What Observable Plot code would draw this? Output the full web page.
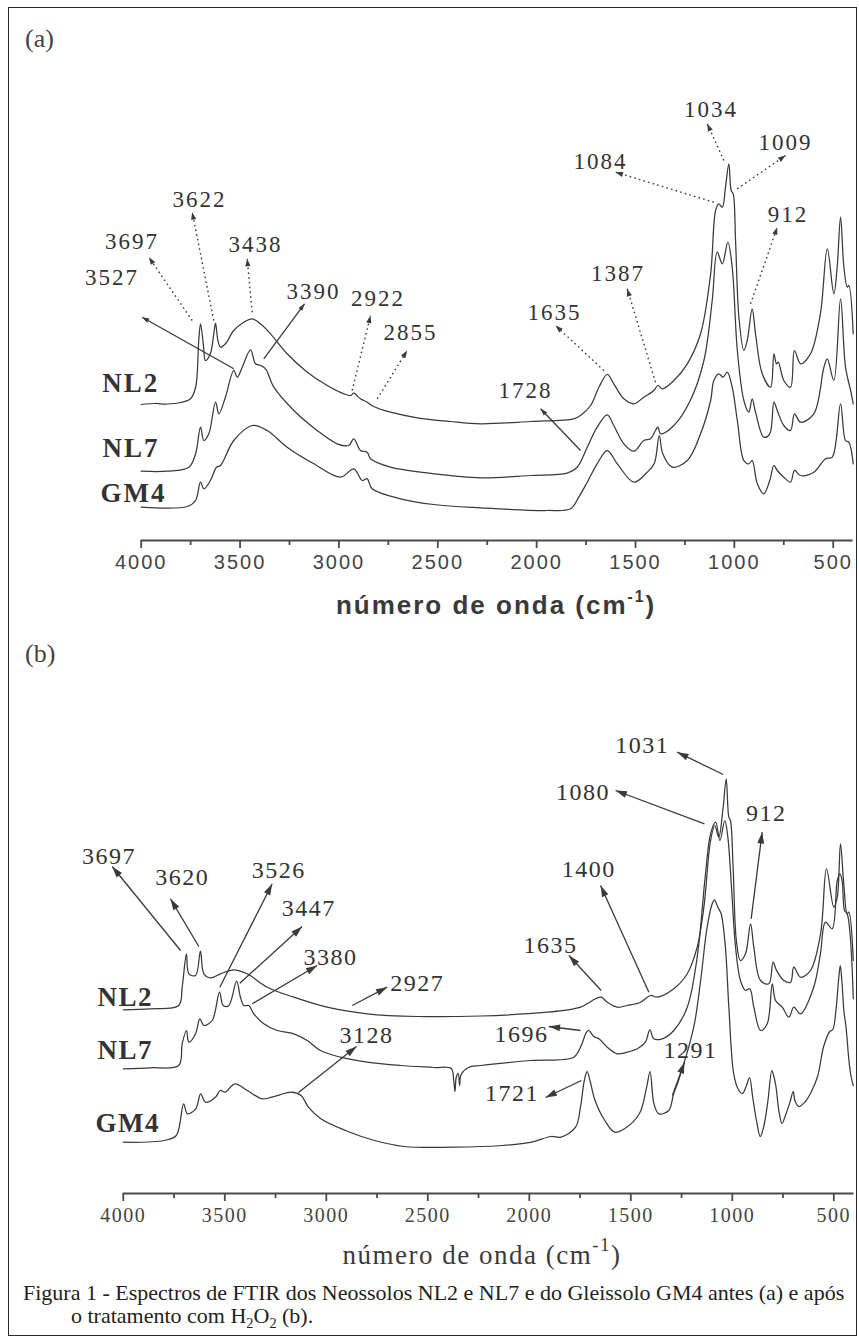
<!DOCTYPE html>
<html><head><meta charset="utf-8">
<script src="https://cdn.jsdelivr.net/npm/d3@7"></script>
<script src="https://cdn.jsdelivr.net/npm/@observablehq/plot@0.6"></script>
<style>
html,body{margin:0;padding:0;background:#fff;}
#page{position:relative;width:859px;height:1337px;overflow:hidden;background:#fff;}
#frame{position:absolute;left:8px;top:7px;width:849px;height:1329px;border:1.5px solid #2a2a2a;box-sizing:border-box;}
.abs{position:absolute;white-space:nowrap;line-height:1;color:#3a3a3a;}
#pa{position:absolute;left:0;top:0;}
#pb{position:absolute;left:0;top:600px;}
#pa text{letter-spacing:2px;}
#pb text{letter-spacing:1.5px;}
#pa marker,#pb marker{overflow:visible;}
#pa marker path{d:path("M-8,-2.8L0,0L-8,2.8Z");fill:#3a3a3a;stroke:none;stroke-dasharray:none;}
#pb marker path{d:path("M-13,-4L0,0L-13,4Z");fill:#3a3a3a;stroke:none;stroke-dasharray:none;}
</style>
</head>
<body>
<div id="page">
  <div id="frame"></div>
  <div id="pa"></div>
  <div id="pb"></div>
  <div class="abs" style="left:25px;top:24px;font:26px 'Liberation Serif';color:#444">(a)</div>
  <div class="abs" style="left:496px;top:590px;transform:translateX(-50%);font:bold 26px 'Liberation Sans';letter-spacing:2px">número de onda (cm<span style="font-size:60%;position:relative;top:-0.8em">-1</span>)</div>
  <div class="abs" style="left:25px;top:639px;font:26px 'Liberation Serif';color:#444">(b)</div>
  <div class="abs" style="left:482px;top:1240px;transform:translateX(-50%);font:27px 'Liberation Serif';letter-spacing:1.5px">número de onda (cm<span style="font-size:70%;position:relative;top:-0.7em">-1</span>)</div>
  <div class="abs" style="left:23px;top:1280px;font:22px 'Liberation Serif';color:#222">Figura 1 - Espectros de FTIR dos Neossolos NL2 e NL7 e do Gleissolo GM4 antes (a) e após</div>
  <div class="abs" style="left:71px;top:1303px;font:22px 'Liberation Serif';color:#222">o tratamento com H<span style="font-size:65%;position:relative;top:0.35em">2</span>O<span style="font-size:65%;position:relative;top:0.35em">2</span> (b).</div>
</div>
<script>
// ---------- axis ticks (wavenumber, cm-1) ----------
const majorTicks = [4000, 3500, 3000, 2500, 2000, 1500, 1000, 500];
const minorTicks = [3750, 3250, 2750, 2250, 1750, 1250, 750];

// ---------- panel (a): before H2O2, [wavenumber, absorbance (a.u., offset)] ----------
const NL2a = [[4000,136],[3930,137],[3868,136.5],[3800,138],[3751,141.7],[3725,153],[3709,200],[3700,216.7],[3686,196.7],[3675,180],[3650,187],[3633,206.7],[3624,217.3],[3612,200],[3599,193.3],[3574,196.7],[3532,210],[3481,218.3],[3439,221.7],[3397,216.7],[3346,206.7],[3262,186.7],[3160,168.3],[3059,155],[2975,146.7],[2941,145],[2925,147.3],[2891,141.7],[2857,138.3],[2824,134],[2739,128.3],[2604,122.7],[2436,119],[2284,116.7],[2031,119],[1812,121.7],[1778,125],[1727,135],[1685,153.3],[1643,166],[1610,156.7],[1559,141.7],[1508,136.7],[1458,143.3],[1407,150],[1387,155],[1365,151.7],[1306,160],[1238,176.7],[1171,206.7],[1120,266.7],[1095,330],[1079,336.7],[1061,333.3],[1045,353.3],[1028,376.7],[1016,350],[1006,346.7],[994,300],[977,223.3],[952,190],[935,200],[910,231.7],[893,206.7],[859,166.7],[817,153.3],[800,186.7],[787,176.7],[778,178.3],[750,160],[716,153.3],[696,190],[665,176.7],[615,186.7],[565,226.7],[530,291.7],[497,246.7],[480,273.3],[463,323.3],[446,273.3],[429,253.3],[421,255],[399,206.7]];
const NL7a = [[4000,69.3],[3868,69.3],[3759,73.3],[3725,86.7],[3700,113.3],[3683,100],[3658,106.7],[3624,138.3],[3607,126.7],[3574,143.3],[3532,170],[3514,163.3],[3489,173.3],[3447,190.7],[3422,176.7],[3397,175],[3371,171.7],[3329,153.3],[3228,130],[3110,110],[3009,96.7],[2950,95],[2925,101.7],[2891,90],[2857,88.3],[2840,81.7],[2739,73.3],[2520,66.7],[2284,62.7],[2031,65],[1846,67.3],[1795,73.3],[1744,93.3],[1694,113.3],[1643,125.7],[1610,115],[1559,96.7],[1508,89.3],[1458,100],[1424,101.7],[1399,110],[1387,113.3],[1373,106.7],[1306,115],[1223,140],[1154,180],[1112,240],[1087,288.3],[1061,276.7],[1033,298.3],[1011,273.3],[985,190],[952,140],[927,128.3],[910,141.7],[893,128.3],[851,103.3],[821,106.7],[800,138.3],[783,130],[750,115],[716,110],[696,126.7],[665,118.3],[598,126.7],[547,173.3],[530,181.7],[497,160],[463,241.7],[438,173.3],[412,150],[399,136.7]];
const GM4a = [[4000,33.3],[3767,34],[3725,40],[3700,58.3],[3683,51.7],[3650,60],[3619,73.3],[3599,75],[3532,100],[3439,115],[3363,110],[3262,93.3],[3127,76.7],[2992,63.3],[2925,71.7],[2882,60],[2857,61.7],[2832,51.7],[2688,41.7],[2520,36],[2284,32.7],[1946,30],[1829,31.7],[1787,43.3],[1744,58.3],[1694,76.7],[1643,90],[1592,76.7],[1508,58.3],[1441,68.3],[1405,77],[1380,105],[1362,86.7],[1314,73.3],[1238,80],[1171,106.7],[1120,140],[1104,160],[1079,166.7],[1057,163.3],[1036,168.3],[1011,153.3],[985,120],[952,80],[927,76.7],[910,80],[884,56.7],[851,46.7],[821,60],[800,75],[783,70],[750,63.3],[716,58.3],[696,70],[665,65],[598,68.3],[539,81.7],[505,83.3],[463,136.7],[438,100],[421,98.3],[399,76.7]];

// ---------- panel (b): after H2O2 ----------
const NL2b = [[4000,171.7],[3866,172.7],[3727,176],[3710,194.3],[3689,227.7],[3677,207.7],[3644,206],[3620,230.3],[3603,207.7],[3570,203.7],[3521,207.7],[3456,211.7],[3390,207.7],[3291,194.3],[3160,184.3],[2996,174.3],[2799,167.7],[2552,165],[2240,165.5],[1912,169.3],[1781,172.7],[1748,174.3],[1715,177.7],[1674,182.7],[1646,184.3],[1616,179.3],[1567,174.3],[1518,176],[1452,179.3],[1403,186],[1370,184.3],[1288,192.7],[1222,207.7],[1173,234.3],[1140,274.3],[1107,341],[1086,356],[1067,344.3],[1045,374.3],[1030,402.7],[1017,364.3],[1009,361],[996,314.3],[980,241],[960,221],[935,227.7],[910,257.7],[894,234.3],[861,201],[820,197.7],[799,219.3],[782,211],[746,201],[713,199.3],[697,214.3],[664,204.3],[615,211],[565,247.7],[536,312.7],[500,274.3],[483,284.3],[467,337.7],[451,297.7],[434,267.7],[426,269.3],[404,221]];
const NL7b = [[4000,112.7],[3866,113.7],[3727,116],[3710,137.7],[3689,151],[3677,139.3],[3644,147.7],[3623,162.7],[3603,156],[3562,161],[3526,189.3],[3508,176],[3480,176],[3442,200.3],[3423,184.3],[3406,176],[3382,176],[3357,167.7],[3308,157.7],[3242,151],[3160,147.7],[3094,141],[3029,131],[2930,124.3],[2799,119.3],[2635,116],[2470,114],[2385,113],[2372,100],[2366,90],[2360,104],[2350,108],[2343,96],[2336,107],[2300,114],[2240,116],[1994,121],[1781,124.3],[1748,134.3],[1718,149.3],[1707,151],[1682,145],[1657,142.7],[1616,134.3],[1567,127.7],[1518,129.3],[1468,132.7],[1428,139.3],[1406,151.7],[1387,142.7],[1345,142.7],[1288,151],[1222,174.3],[1173,224.3],[1132,307.7],[1107,347.7],[1082,359.3],[1061,341],[1037,361],[1022,344.3],[1005,297.7],[984,234.3],[960,201],[935,191],[914,192.7],[894,174.3],[861,151],[828,157.7],[803,197.7],[787,181],[754,174.3],[721,164.3],[697,174.3],[664,167.7],[599,194.3],[566,227.7],[541,259.3],[508,252.7],[483,301],[470,307.7],[459,301],[447,271],[434,267.7],[404,182.7]];
const GM4b = [[4000,39.3],[3800,41],[3739,46],[3703,77.7],[3684,67.7],[3643,72.7],[3619,87.7],[3595,79.3],[3546,84.3],[3522,91],[3498,89.3],[3450,97.7],[3389,91],[3317,82.7],[3268,84.3],[3172,89.3],[3124,86],[3088,74.3],[3027,62.7],[2906,51],[2762,41],[2617,35],[2375,34.3],[2134,36],[1989,39.3],[1893,45],[1844,44.3],[1772,54.3],[1748,74.3],[1729,101],[1715,110],[1700,100],[1676,81],[1628,61],[1579,49.3],[1531,52.7],[1458,67.7],[1422,94.3],[1405,110],[1386,77.7],[1362,67.7],[1313,71],[1289,87.7],[1265,101],[1190,154.3],[1156,201],[1124,254.3],[1099,277.7],[1088,281.7],[1071,274.3],[1055,267.7],[1034,234.3],[1017,174.3],[993,107.7],[970,92],[950,88],[930,96],[915,104],[900,85],[880,60],[862,45],[845,55],[825,80],[805,111],[795,105],[785,95],[770,70],[755,58],[740,65],[715,80],[700,90],[690,80],[670,75],[640,80],[610,90],[580,105],[550,135],[520,150],[505,152],[490,170],[475,205],[468,216],[460,200],[450,170],[440,155],[425,120],[415,105],[404,96]];

// ---------- peak labels [text, wavenumber, absorbance] ----------
const peaksA = [["3697",4046.5,299],["3622",3705,340.8],["3438",3422,296],["3527",4148,263],["3390",3128.5,249],["2922",2802,241.5],["2855",2638,208],["1728",2056,149.5],["1635",1910,227.5],["1387",1588,267],["1084",1677,379],["1034",1118,430.5],["1009",741,397.5],["912",728.5,325.5]];
const peaksB = [["3697",4070,325.5],["3620",3710,304.5],["3526",3234,311],["3447",3086,272.7],["3380",2979,224.3],["2927",2552,197.7],["3128",2802,146],["1031",1444,436.5],["1080",1735.5,389.3],["912",832.5,368.5],["1400",1707,312],["1635",1895.6,236],["1696",2038,147],["1291",1206,131],["1721",2085,88.5]];

// ---------- arrows [label, w1, a1, w2, a2, dotted?] (tail -> head) ----------
const arrowsA = [["3697",3742,220,3961.6,283.3,true],["3622",3633,220,3742,328.3,true],["3438",3438.6,228.3,3464,281.7,true],["3527",3531.6,171.7,3995,223.3,false],["3390",3380,181.7,3174,236.7,false],["2922",2933,150,2840,225,true],["2855",2806,141.7,2655,190,true],["1728",1778,90,1980,131.7,false],["1635",1660,170,1904.5,215,true],["1387",1399,158.3,1542,251.7,true],["1084",1104,338.3,1601,368.3,true],["1034",1053,380,1137,416.7,true],["1009",985.5,351.7,741,385,true],["912",918,236.7,783,313.3,true]];
const arrowsB = [["3697",3718,231,4054.7,315,false],["3620",3628,235,3767.5,282.7,false],["3526",3524.6,194.3,3266.5,297.7,false],["3447",3426,198.3,3119,255,false],["3380",3365,177.7,3045,216,false],["2927",2872,176,2700,194.3,false],["3128",3137,89,2851,135,false],["1031",1045,407,1271,429.3,false],["1080",1137,357.7,1575,391,false],["912",907,262.7,853,349.3,false],["1400",1411,189.3,1649,296,false],["1635",1646,191,1805,226,false],["1696",1748,151,1904,155,false],["1291",1295,86,1235.5,119.3,false],["1721",1743,101,1920,84,false]];

// ---------- sample names [name, wavenumber, absorbance] ----------
const namesA = [["NL2",4197,157],["NL7",4196,92.5],["GM4",4206,47.5]];
const namesB = [["NL2",4127,184],["NL7",4127,131],["GM4",4137,58.5]];

function panel(cfg) {
  const rows = cfg.series.flatMap(([name, pts]) => pts.map(([w, a]) => ({name, w, a})));
  const arrows = cfg.arrows.map(([label, w1, a1, w2, a2, dotted]) => ({label, w1, a1, w2, a2, dotted}));
  const peaks = cfg.peaks.map(([label, w, a]) => ({label, w, a}));
  const names = cfg.names.map(([name, w, a]) => ({name, w, a}));
  const ink = "#3a3a3a";
  return Plot.plot({
    width: 859, height: cfg.height,
    marginLeft: cfg.ml, marginRight: cfg.mr, marginTop: 0, marginBottom: cfg.mb,
    x: {domain: [4000, 400]},
    y: {domain: [cfg.ymin, cfg.ymax], axis: null},
    style: {fontFamily: cfg.tickFont, fontSize: cfg.tickSize + "px", color: "#444", background: "transparent", overflow: "visible"},
    marks: [
      Plot.ruleY([cfg.ymin], {stroke: "#4a4a4a", strokeWidth: 1.8}),
      Plot.axisX({ticks: majorTicks, tickSize: 8, tickPadding: cfg.pad, tickFormat: d => String(d), label: null, stroke: "#4a4a4a", strokeWidth: 1.8}),
      Plot.axisX({ticks: minorTicks, tickSize: 5, tickFormat: () => "", label: null, stroke: "#4a4a4a", strokeWidth: 1.8}),
      Plot.line(rows, {x: "w", y: "a", z: "name", stroke: ink, strokeWidth: 1.25, curve: "catmull-rom"}),
      Plot.link(arrows.filter(d => d.dotted), {x1: "w1", y1: "a1", x2: "w2", y2: "a2", stroke: ink, strokeWidth: 1.4, strokeDasharray: "1.6,3.2", markerEnd: "arrow"}),
      Plot.link(arrows.filter(d => !d.dotted), {x1: "w1", y1: "a1", x2: "w2", y2: "a2", stroke: ink, strokeWidth: 1.3, markerEnd: "arrow"}),
      Plot.text(peaks, {x: "w", y: "a", text: "label", fontFamily: "Liberation Serif", fontSize: cfg.peakSize, fill: "#333", textAnchor: "middle", lineAnchor: "middle"}),
      Plot.text(names, {x: "w", y: "a", text: "name", fontFamily: "Liberation Serif", fontWeight: "bold", fontSize: cfg.nameSize, fill: "#333", textAnchor: "start", lineAnchor: "middle"})
    ]
  });
}

document.getElementById("pa").append(panel({
  series: [["NL2", NL2a], ["NL7", NL7a], ["GM4", GM4a]],
  arrows: arrowsA, peaks: peaksA, names: namesA,
  height: 600, ml: 140.7, mr: 6.5, mb: 60, ymin: 0, ymax: 540, pad: 6,
  tickFont: "'Liberation Sans', Arial, sans-serif", tickSize: 20, peakSize: 23, nameSize: 27
}));
document.getElementById("pb").append(panel({
  series: [["NL2", NL2b], ["NL7", NL7b], ["GM4", GM4b]],
  arrows: arrowsB, peaks: peaksB, names: namesB,
  height: 640, ml: 122.8, mr: 5.4, mb: 47, ymin: -12, ymax: 581, pad: 6,
  tickFont: "'Liberation Serif', 'Times New Roman', serif", tickSize: 20, peakSize: 24, nameSize: 27
}));
</script>
</body></html>
